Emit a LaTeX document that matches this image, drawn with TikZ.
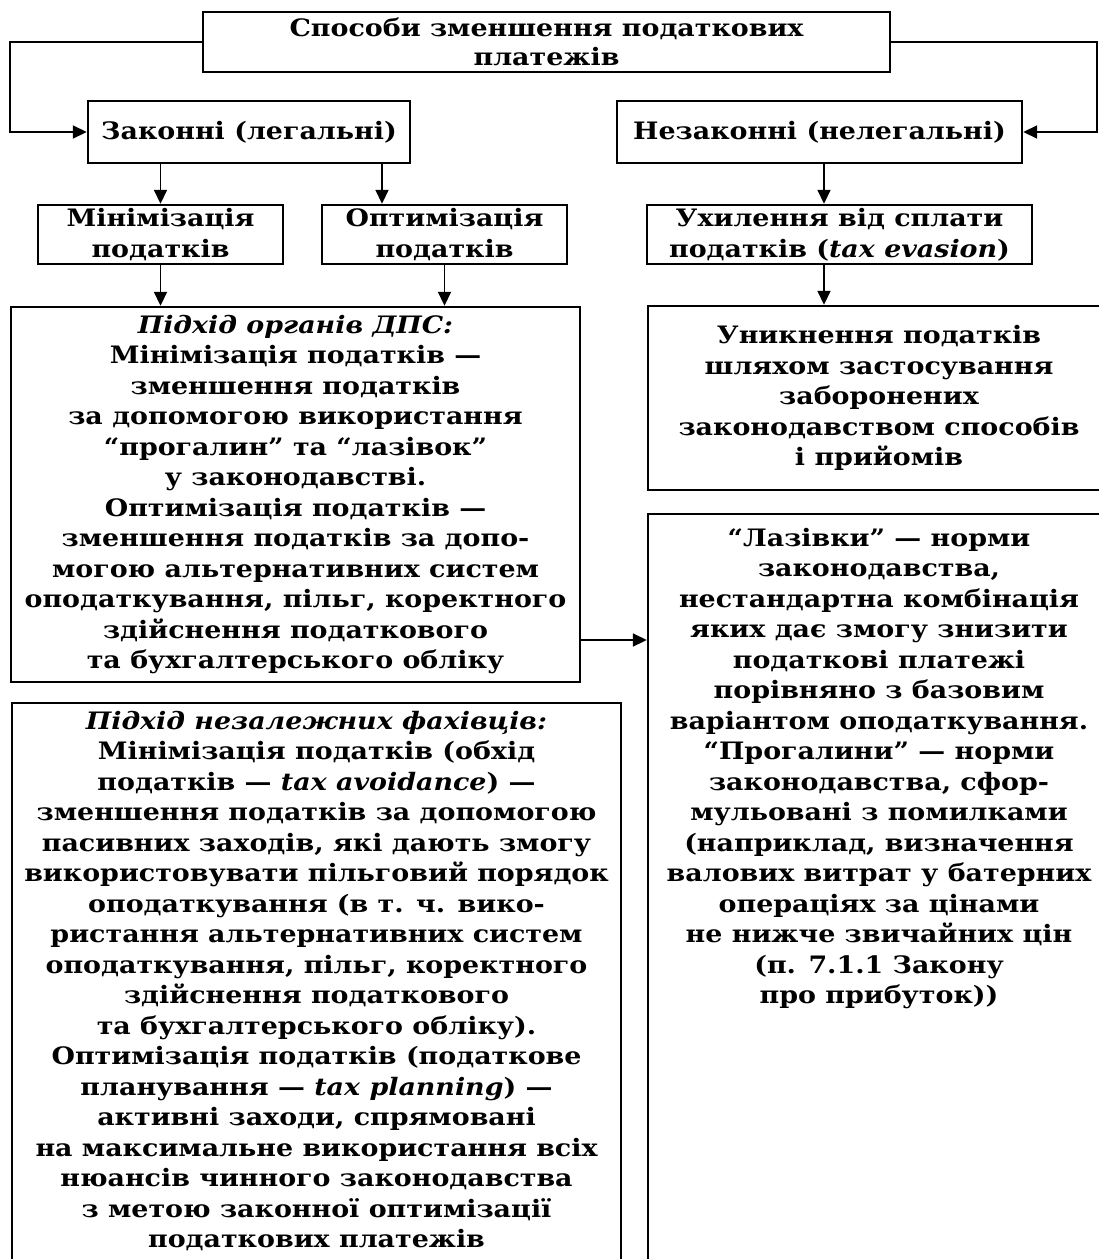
\documentclass[tikz,border=0pt]{standalone}
\usepackage{fontspec}
\setmainfont{DejaVu Serif}[FakeStretch=1.12]
\usetikzlibrary{arrows.meta}
\begin{document}
\begin{tikzpicture}[x=1pt,y=-1pt,
  txt/.style={font=\bfseries\fontsize{24}{30.5}\selectfont},
  box/.style={txt, draw, line width=2.4pt, align=center, inner sep=0pt},
  arr/.style={line width=1.7pt, -{Triangle[length=14pt,width=13pt]}}]
\clip (0,0) rectangle (1099,1259);
\fill[white] (0,0) rectangle (1099,1259);

% top level
\node[box, minimum width=687pt, minimum height=60pt, font=\bfseries\fontsize{24}{29}\selectfont] (top) at (546.5,42) {Способи зменшення податкових\\платежів};
\node[box, minimum width=322pt, minimum height=62pt] (leg) at (249,132) {Законні (легальні)};
\node[box, minimum width=405pt, minimum height=62pt] (illeg) at (819.5,132) {Незаконні (нелегальні)};

% second level
\node[box, minimum width=245pt, minimum height=59pt] (mini) at (160.5,234.5) {Мінімізація\\податків};
\node[box, minimum width=245pt, minimum height=59pt] (opti) at (444.5,234.5) {Оптимізація\\податків};
\node[box, minimum width=385pt, minimum height=59pt] (ukh) at (839.5,234.5) {Ухилення від сплати\\податків (\textit{tax evasion})};

% big boxes
\node[box, minimum width=569pt, minimum height=375pt] (dps) at (295.5,494.5) {%
{\itshape Підхід органів ДПС:}\\
Мінімізація податків —\\
зменшення податків\\
за допомогою використання\\
“прогалин” та “лазівок”\\
у законодавстві.\\
Оптимізація податків —\\
зменшення податків за допо-\\
могою альтернативних систем\\
оподаткування, пільг, коректного\\
здійснення податкового\\
та бухгалтерського обліку};

\node[box, minimum width=462pt, minimum height=184pt] (unik) at (879,398) {%
Уникнення податків\\
шляхом застосування\\
заборонених\\
законодавством способів\\
і прийомів};

\node[box, anchor=north, minimum width=462pt, inner ysep=14pt] (laz) at (879,513) {%
\parbox[t][760pt][t]{450pt}{\centering
“Лазівки” — норми\\
законодавства,\\
нестандартна комбінація\\
яких дає змогу знизити\\
податкові платежі\\
порівняно з базовим\\
варіантом оподаткування.\\
“Прогалини” — норми\\
законодавства, сфор-\\
мульовані з помилками\\
(наприклад, визначення\\
валових витрат у батерних\\
операціях за цінами\\
не нижче звичайних цін\\
(п. 7.1.1 Закону\\
про прибуток))}};

\node[box, anchor=north, minimum width=609pt, inner ysep=8pt] (indep) at (316.5,702) {%
\parbox[t][600pt][t]{600pt}{\centering
{\itshape Підхід незалежних фахівців:}\\
Мінімізація податків (обхід\\
податків — \textit{tax avoidance}) —\\
зменшення податків за допомогою\\
пасивних заходів, які дають змогу\\
використовувати пільговий порядок\\
оподаткування (в т. ч. вико-\\
ристання альтернативних систем\\
оподаткування, пільг, коректного\\
здійснення податкового\\
та бухгалтерського обліку).\\
Оптимізація податків (податкове\\
планування — \textit{tax planning}) —\\
активні заходи, спрямовані\\
на максимальне використання всіх\\
нюансів чинного законодавства\\
з метою законної оптимізації\\
податкових платежів}};

% helper coordinates
\coordinate (lx) at (10,42);
\coordinate (rx) at (1097,42);
\coordinate (c382) at (382,0);
\coordinate (c824) at (824,0);
\coordinate (c640) at (0,640);

% connectors
\draw[arr] (top.west) -- (lx) |- (leg.west);
\draw[arr] (top.east) -- (rx) |- (illeg.east);
\draw[arr] (leg.south -| mini.north) -- (mini.north);
\draw[arr] (leg.south -| c382) -- (opti.north -| c382);
\draw[arr] (illeg.south -| c824) -- (ukh.north -| c824);
\draw[arr] (mini.south) -- (mini.south |- dps.north);
\draw[arr] (opti.south) -- (opti.south |- dps.north);
\draw[arr] (ukh.south -| c824) -- (unik.north -| c824);
\draw[arr] (dps.east |- c640) -- (laz.west |- c640);
\end{tikzpicture}
\end{document}
